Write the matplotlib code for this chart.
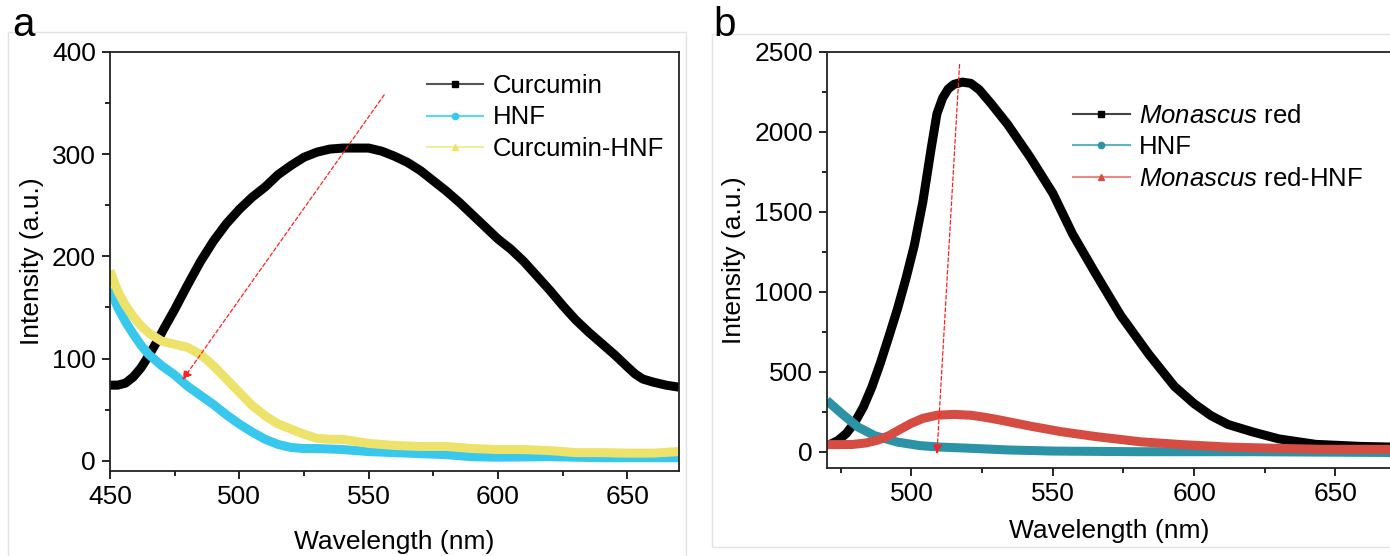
import numpy as np
import matplotlib
matplotlib.use("Agg")
import matplotlib.pyplot as plt
from matplotlib.lines import Line2D
from matplotlib.patches import Rectangle
from matplotlib.ticker import MultipleLocator

plt.rcParams["font.family"] = ["Liberation Sans", "DejaVu Sans"]
plt.rcParams["mathtext.fontset"] = "custom"
plt.rcParams["mathtext.it"] = "Liberation Sans:italic"
plt.rcParams["mathtext.rm"] = "Liberation Sans"

# ---- panel a: curcumin ----
wl_cur = [450, 453, 456, 459, 462, 465, 468, 471, 475, 480, 485, 490, 495, 500,
          505, 510, 515, 520, 525, 530, 535, 540, 545, 550, 555, 560, 565, 570,
          575, 580, 585, 590, 595, 600, 605, 610, 615, 620, 625, 630, 635, 640,
          645, 650, 653, 656, 660, 665, 670]
curcumin = [74, 74, 76, 82, 91, 103, 116, 130, 148, 172, 195, 215, 232, 246,
            258, 268, 280, 289, 297, 302, 305, 306, 306, 306, 303, 298, 292, 284,
            274, 264, 253, 241, 229, 217, 207, 195, 181, 167, 152, 138, 126, 115,
            104, 92, 85, 80, 77, 74, 72]

wl_hnf_a = [450, 453, 456, 459, 462, 465, 470, 475, 480, 485, 490, 495, 500, 505,
            510, 515, 520, 525, 530, 540, 550, 560, 570, 580, 590, 600, 620, 640,
            670]
hnf_a = [168, 150, 136, 124, 113, 104, 93, 84, 73, 64, 55, 45, 36, 28,
         21, 16, 13, 12, 12, 11, 9, 8, 7, 6, 4, 3.5, 4, 3, 3]

wl_cur_hnf = [450, 453, 456, 459, 462, 465, 470, 475, 480, 485, 490, 495, 500,
              505, 510, 515, 520, 525, 530, 535, 540, 545, 550, 560, 570, 580,
              590, 600, 610, 620, 630, 640, 650, 660, 670]
cur_hnf = [186, 166, 152, 141, 132, 125, 117, 114, 111, 104, 93, 80, 67,
           54, 44, 36, 31, 26, 22, 21, 21, 19, 17, 15, 14, 14,
           12, 11, 11, 10, 8, 8, 7.5, 7.5, 9]

# ---- panel b: Monascus red ----
wl_mr = [471, 474, 477, 480, 483, 486, 489, 492, 495, 498, 501, 504, 507, 509,
         511, 513, 515, 518, 521, 524, 528, 534, 542, 550, 557, 565, 574, 584,
         593, 600, 606, 612, 621, 630, 643, 659, 670]
monascus_red = [44, 70, 115, 185, 280, 405, 555, 720, 890, 1080, 1290, 1560,
                1900, 2112, 2210, 2268, 2296, 2310, 2302, 2262, 2179, 2046, 1840,
                1615, 1360, 1117, 852, 608, 409, 300, 225, 170, 122, 80, 46, 33, 29]

wl_hnf_b = [470, 475, 481, 487, 495, 503, 510, 520, 534, 550, 580, 620, 670]
hnf_b = [321, 243, 155, 100, 60, 38, 29, 22, 11, 4, 0, 0, -5]

wl_mr_hnf = [470, 479, 484, 488, 492, 496, 500, 504, 509, 515, 521, 526, 531,
             542, 553, 565, 581, 596, 612, 627, 645, 670]
mr_hnf = [44, 45, 55, 72, 100, 140, 178, 208, 228, 233, 228, 215, 199,
          160, 125, 95, 62, 44, 29, 22, 15, 15]

W, H = 1390, 556
fig = plt.figure(figsize=(W / 100, H / 100), dpi=100)

# light panel frames (panel a runs off the bottom, panel b off the right)
for (x0, y0, x1, y1) in [(8, 32, 686, 560), (712, 34, 1400, 547)]:
    fig.patches.append(Rectangle((x0 / W, 1 - y1 / H), (x1 - x0) / W, (y1 - y0) / H,
                                 transform=fig.transFigure, fill=False,
                                 edgecolor="#e3e3e3", linewidth=1.0))

ax_a = fig.add_axes([110 / W, 1 - 471 / H, 569 / W, 419 / H])
ax_b = fig.add_axes([826.7 / W, 1 - 467.7 / H, 565.3 / W, 416 / H])

fs = 19
lw = 6.5
leg_fs = 18.5


def style(ax, xmaj, ymaj, xpad):
    ax.xaxis.set_major_locator(MultipleLocator(xmaj))
    ax.xaxis.set_minor_locator(MultipleLocator(xmaj / 2))
    ax.yaxis.set_major_locator(MultipleLocator(ymaj))
    ax.yaxis.set_minor_locator(MultipleLocator(ymaj / 2))
    ax.tick_params(which="major", direction="out", length=6, width=1.2,
                   labelsize=fs, pad=4)
    ax.tick_params(which="minor", direction="out", length=3.5, width=1.2)
    for s in ax.spines.values():
        s.set_linewidth(1.3)
        s.set_color("#222222")
    ax.set_xlabel("Wavelength (nm)", fontsize=fs, labelpad=xpad)
    ax.set_ylabel("Intensity (a.u.)", fontsize=fs, labelpad=6)


def draw(ax, x, y, color):
    ax.plot(x, y, color=color, lw=lw, solid_capstyle="butt",
            solid_joinstyle="round")


# panel a
draw(ax_a, wl_cur, curcumin, "black")
draw(ax_a, wl_hnf_a, hnf_a, "#38c8ee")
draw(ax_a, wl_cur_hnf, cur_hnf, "#ede36a")
ax_a.set_xlim(450, 670)
ax_a.set_ylim(-10, 400)
style(ax_a, 50, 100, 15)
ax_a.annotate("", xy=(478, 79), xytext=(556, 358),
              arrowprops=dict(arrowstyle="-|>", color="#ff2020", lw=0.9,
                              linestyle=(0, (3, 2)), mutation_scale=14,
                              shrinkA=0, shrinkB=0))
handles_a = [
    Line2D([], [], color="#555555", lw=1.5, marker="s", ms=4.5, mfc="black", mec="black"),
    Line2D([], [], color="#5ad8f5", lw=1.5, marker="o", ms=4.5, mfc="#38c8ee", mec="#38c8ee"),
    Line2D([], [], color="#f3ec9a", lw=1.5, marker="^", ms=5, mfc="#ede36a", mec="#ede36a"),
]
ax_a.legend(handles_a, ["Curcumin", "HNF", "Curcumin-HNF"], loc="upper left",
            bbox_to_anchor=(0.557, 0.948), frameon=False, fontsize=leg_fs,
            handlelength=2.2, handletextpad=0.35, labelspacing=0.3,
            borderpad=0, borderaxespad=0)

# panel b
draw(ax_b, wl_mr, monascus_red, "black")
draw(ax_b, wl_hnf_b, hnf_b, "#2b93a5")
draw(ax_b, wl_mr_hnf, mr_hnf, "#d54c43")
ax_b.set_xlim(470, 670)
ax_b.set_ylim(-100, 2500)
style(ax_b, 50, 500, 10)
ax_b.annotate("", xy=(509, -15), xytext=(517, 2420),
              arrowprops=dict(arrowstyle="-|>", color="#ff2020", lw=0.9,
                              linestyle=(0, (3, 2)), mutation_scale=14,
                              shrinkA=0, shrinkB=0))
handles_b = [
    Line2D([], [], color="#444444", lw=1.5, marker="s", ms=4.5, mfc="black", mec="black"),
    Line2D([], [], color="#5fb3c2", lw=1.5, marker="o", ms=4.5, mfc="#2b93a5", mec="#2b93a5"),
    Line2D([], [], color="#e58a84", lw=1.5, marker="^", ms=5, mfc="#d54c43", mec="#d54c43"),
]
ax_b.legend(handles_b, [r"$\mathit{Monascus}$ red", "HNF", r"$\mathit{Monascus}$ red-HNF"],
            loc="upper left", bbox_to_anchor=(0.436, 0.875), frameon=False,
            fontsize=leg_fs, handlelength=2.2, handletextpad=0.35, labelspacing=0.3,
            borderpad=0, borderaxespad=0)

fig.text(12 / W, 1 - 36 / H, "a", fontsize=29, va="baseline")
fig.text(713 / W, 1 - 36 / H, "b", fontsize=29, va="baseline")

fig.savefig("out.png", dpi=100)
